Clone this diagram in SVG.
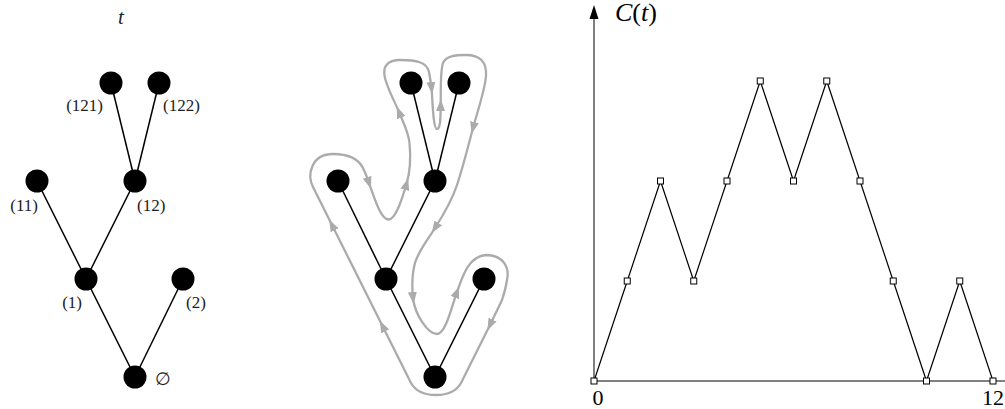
<svg xmlns="http://www.w3.org/2000/svg" width="1005" height="409" viewBox="0 0 1005 409">
<style>
  .edge { stroke: #000; stroke-width: 1.5; fill: none; }
  .node { fill: #000; }
  .lbl { font-family: "Liberation Serif", "DejaVu Serif", serif; font-size: 17px; fill: #222; }
  .contour { stroke: #ababab; stroke-width: 2.3; fill: none; stroke-linecap: round; marker-end: url(#garrow); }
  .axis { stroke: #808080; stroke-width: 2; fill: none; }
  .curve { stroke: #000; stroke-width: 1.2; fill: none; }
  .pt { fill: #fff; stroke: #000; stroke-width: 1; }
  .big { font-family: "Liberation Serif", "DejaVu Serif", serif; font-size: 26px; fill: #000; }
  .num { font-family: "Liberation Serif", "DejaVu Serif", serif; font-size: 22px; fill: #000; }
</style>
<defs>
  <marker id="garrow" viewBox="0 0 12 9" refX="6" refY="4.5" markerWidth="12" markerHeight="9" markerUnits="userSpaceOnUse" orient="auto">
    <path d="M0,0 L12,4.5 L0,9 z" fill="#ababab"/>
  </marker>
</defs>
<rect width="1005" height="409" fill="#fff"/>

<!-- connectors -->
<g id="connectors">
  <!-- left tree edges -->
  <line class="edge" x1="135" y1="377" x2="86" y2="279"/>
  <line class="edge" x1="135" y1="377" x2="183" y2="279"/>
  <line class="edge" x1="86" y1="279" x2="37" y2="181"/>
  <line class="edge" x1="86" y1="279" x2="135" y2="181"/>
  <line class="edge" x1="135" y1="181" x2="111" y2="83"/>
  <line class="edge" x1="135" y1="181" x2="159" y2="83"/>
  <!-- middle tree edges -->
  <line class="edge" x1="435" y1="377" x2="386" y2="279"/>
  <line class="edge" x1="435" y1="377" x2="484" y2="279"/>
  <line class="edge" x1="386" y1="279" x2="338" y2="181"/>
  <line class="edge" x1="386" y1="279" x2="435" y2="181"/>
  <line class="edge" x1="435" y1="181" x2="411" y2="83"/>
  <line class="edge" x1="435" y1="181" x2="459" y2="83"/>
  <!-- contour walk -->
  <path class="contour" d="M490 325 L461 383 C456 392 446 395 436 395 C426 395 416 392 411 383 L382.5 326"/>
  <path class="contour" d="M382.5 326 L332 225"/>
  <path class="contour" d="M332 225 L313 187 C307 175 311 154 333 154 C349 154 359 160 363 168 C365 172 367 177 369 183"/>
  <path class="contour" d="M369 183 C375 200 381 219.5 388.5 219.5 C396 219.5 403 196 406.5 184"/>
  <path class="contour" d="M406.5 184 C409.5 174 411 158 409.5 143 C408.5 132 403 122 399 112"/>
  <path class="contour" d="M399 112 C394 100 388 90 385 78 C382 66 388 60 400 60 C416 60 427 62 429 72 C430 78 431 83 431.5 88"/>
  <path class="contour" d="M431.5 88 C432.5 98 433 129 437 129 C441 129 440.5 114 440.7 105"/>
  <path class="contour" d="M440.7 105 C441 93 440 72 443 63 C446 56 455 55 466 55 C480 55 487 62 486 76 C485 90 477 113 473 128"/>
  <path class="contour" d="M473 128 C469 143 463 167 457 185 C452 200 444 214 435 228"/>
  <path class="contour" d="M435 228 C427 241 418 252 415 263 C412 274 412 288 413 298"/>
  <path class="contour" d="M413 298 C415 315 428 334 437 334 C446 334 452 305 457 292"/>
  <path class="contour" d="M457 292 C462 278 468 256 486 255 C502 255 510 266 507 280 C506 287 504 294 502 300 L490 325"/>
  <!-- chart axes and curve -->
  <line class="axis" x1="594" y1="381" x2="594" y2="18"/>
  <polygon points="594,5 589.5,19 598.5,19" fill="#000"/>
  <line class="axis" x1="594" y1="381" x2="1005" y2="381"/>
  <polyline class="curve" points="594,381 627.25,281 660.5,181 693.75,281 727,181 760.25,81 793.5,181 826.75,81 860,181 893.25,281 926.5,381 959.75,281 993,381"/>
</g>

<!-- left tree -->
<text class="lbl" x="121" y="24" text-anchor="middle" font-style="italic" style="font-size:21px">t</text>
<g id="L-root"><circle class="node" cx="135" cy="377" r="11.5"/><text x="155" y="385" font-family="DejaVu Serif, serif" font-size="18" fill="#222">∅</text></g>
<g id="L-1"><circle class="node" cx="86" cy="279" r="11.5"/><text class="lbl" x="82" y="308" text-anchor="end">(1)</text></g>
<g id="L-2"><circle class="node" cx="183" cy="279" r="11.5"/><text class="lbl" x="186" y="308">(2)</text></g>
<g id="L-11"><circle class="node" cx="37" cy="181" r="11.5"/><text class="lbl" x="38" y="211" text-anchor="end">(11)</text></g>
<g id="L-12"><circle class="node" cx="135" cy="181" r="11.5"/><text class="lbl" x="137" y="211">(12)</text></g>
<g id="L-121"><circle class="node" cx="111" cy="83" r="11.5"/><text class="lbl" x="103" y="111" text-anchor="end">(121)</text></g>
<g id="L-122"><circle class="node" cx="159" cy="83" r="11.5"/><text class="lbl" x="163" y="111">(122)</text></g>

<!-- middle tree -->
<g id="M-root"><circle class="node" cx="435" cy="377" r="11.5"/></g>
<g id="M-1"><circle class="node" cx="386" cy="279" r="11.5"/></g>
<g id="M-2"><circle class="node" cx="484" cy="279" r="11.5"/></g>
<g id="M-11"><circle class="node" cx="338" cy="181" r="11.5"/></g>
<g id="M-12"><circle class="node" cx="435" cy="181" r="11.5"/></g>
<g id="M-121"><circle class="node" cx="411" cy="83" r="11.5"/></g>
<g id="M-122"><circle class="node" cx="459" cy="83" r="11.5"/></g>

<!-- chart points -->
<g id="chart-points">
  <rect class="pt" x="591" y="378" width="6" height="6"/>
  <rect class="pt" x="624.25" y="278" width="6" height="6"/>
  <rect class="pt" x="657.5" y="178" width="6" height="6"/>
  <rect class="pt" x="690.75" y="278" width="6" height="6"/>
  <rect class="pt" x="724" y="178" width="6" height="6"/>
  <rect class="pt" x="757.25" y="78" width="6" height="6"/>
  <rect class="pt" x="790.5" y="178" width="6" height="6"/>
  <rect class="pt" x="823.75" y="78" width="6" height="6"/>
  <rect class="pt" x="857" y="178" width="6" height="6"/>
  <rect class="pt" x="890.25" y="278" width="6" height="6"/>
  <rect class="pt" x="923.5" y="378" width="6" height="6"/>
  <rect class="pt" x="956.75" y="278" width="6" height="6"/>
  <rect class="pt" x="990" y="378" width="6" height="6"/>
</g>
<text class="big" x="615" y="21"><tspan font-style="italic">C</tspan>(<tspan font-style="italic">t</tspan>)</text>
<text class="num" x="598" y="405" text-anchor="middle">0</text>
<text class="num" x="982" y="405">12</text>
</svg>
